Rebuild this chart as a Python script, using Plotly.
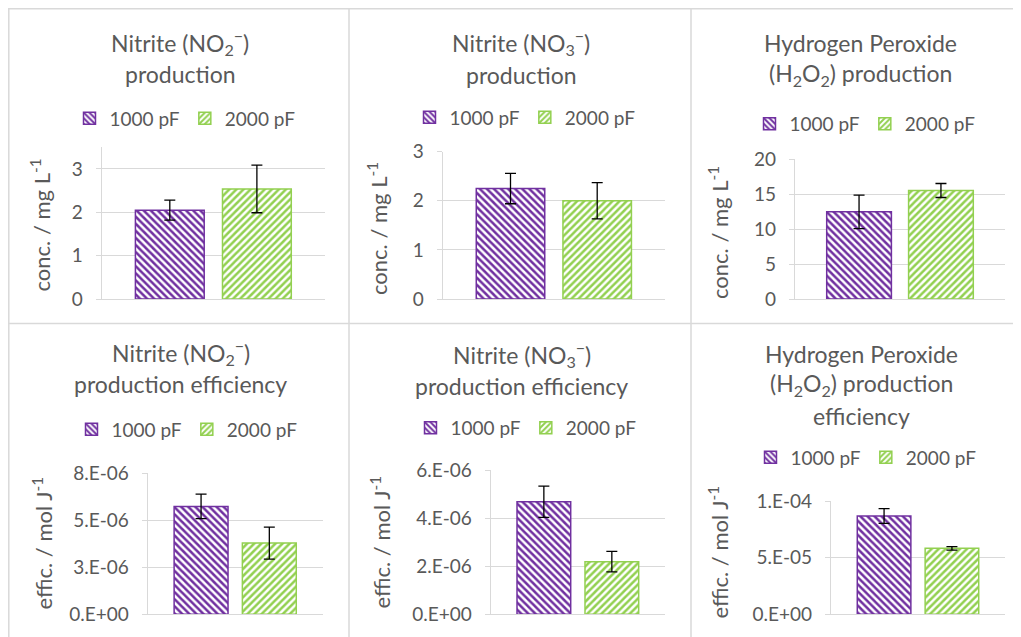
import plotly.graph_objects as go

# ---------------- data ----------------
series_names = ["1000 pF", "2000 pF"]
category = ["sample"]

no2_conc = [2.05, 2.54]
no2_conc_err = [0.23, 0.55]
no3_conc = [2.25, 2.00]
no3_conc_err = [0.31, 0.37]
h2o2_conc = [12.45, 15.5]
h2o2_conc_err = [2.4, 1.0]
no2_eff = [5.74e-6, 3.79e-6]
no2_eff_err = [0.65e-6, 0.85e-6]
no3_eff = [4.68e-6, 2.19e-6]
no3_eff_err = [0.65e-6, 0.43e-6]
h2o2_eff = [8.68e-5, 5.82e-5]
h2o2_eff_err = [0.65e-5, 0.15e-5]

titles = [
    ["Nitrite (NO<sub>2</sub><sup>−</sup>)", "production"],
    ["Nitrite (NO<sub>3</sub><sup>−</sup>)", "production"],
    ["Hydrogen Peroxide", "(H<sub>2</sub>O<sub>2</sub>) production"],
    ["Nitrite (NO<sub>2</sub><sup>−</sup>)", "production efficiency"],
    ["Nitrite (NO<sub>3</sub><sup>−</sup>)", "production efficiency"],
    ["Hydrogen Peroxide", "(H<sub>2</sub>O<sub>2</sub>) production", "efficiency"],
]
conc_title = "conc. / mg L<sup>-1</sup>"
eff_title = "effic. / mol J<sup>-1</sup>"

no2_conc_ticks = [0, 1, 2, 3]
no3_conc_ticks = [0, 1, 2, 3]
h2o2_conc_ticks = [0, 5, 10, 15, 20]
no2_eff_ticks = [0, 2.5e-6, 5e-6, 7.5e-6]
no2_eff_ticktext = ["0.E+00", "3.E-06", "5.E-06", "8.E-06"]
no3_eff_ticks = [0, 2e-6, 4e-6, 6e-6]
no3_eff_ticktext = ["0.E+00", "2.E-06", "4.E-06", "6.E-06"]
h2o2_eff_ticks = [0, 5e-5, 1e-4]
h2o2_eff_ticktext = ["0.E+00", "5.E-05", "1.E-04"]

# ---------------- layout / style ----------------
OFF = 8                      # page body margin of the browser
W, H = 1021 - OFF, 637 - OFF
FONT = "Lato"
TXT = "#595959"
GRID = "#D9D9D9"
colors = ["#7030A0", "#92D050"]
shapes_pat = ["\\", "/"]


def px_x(v):
    return (v - OFF) / W


def px_y(v):
    return 1 - (v - OFF) / H


panels = [
    dict(vals=no2_conc, err=no2_conc_err, ytitle=conc_title, rng=[0, 3.5],
         tv=no2_conc_ticks, tt=[str(t) for t in no2_conc_ticks],
         dom_x=[101.7, 325], dom_y=[147.3, 299], cx=180, base=[50, 81.7],
         leg=(185, 118.5), yt=(40.5, 225)),
    dict(vals=no3_conc, err=no3_conc_err, ytitle=conc_title, rng=[0, 3],
         tv=no3_conc_ticks, tt=[str(t) for t in no3_conc_ticks],
         dom_x=[442.7, 665], dom_y=[151.7, 299], cx=521, base=[50, 82],
         leg=(525, 117.5), yt=(378, 229)),
    dict(vals=h2o2_conc, err=h2o2_conc_err, ytitle=conc_title, rng=[0, 20],
         tv=h2o2_conc_ticks, tt=[str(t) for t in h2o2_conc_ticks],
         dom_x=[795, 1005], dom_y=[159, 299], cx=860, base=[50.5, 81.7],
         leg=(865, 124), yt=(718, 233)),
    dict(vals=no2_eff, err=no2_eff_err, ytitle=eff_title, rng=[0, 7.5e-6],
         tv=no2_eff_ticks, tt=no2_eff_ticktext,
         dom_x=[147.7, 322.7], dom_y=[473.3, 614.3], cx=180.5, base=[360, 391.7],
         leg=(187, 429.5), yt=(42, 543.5)),
    dict(vals=no3_eff, err=no3_eff_err, ytitle=eff_title, rng=[0, 6e-6],
         tv=no3_eff_ticks, tt=no3_eff_ticktext,
         dom_x=[490.7, 665], dom_y=[470, 614.3], cx=521.5, base=[361.7, 393.3],
         leg=(526, 428), yt=(380, 542.5)),
    dict(vals=h2o2_eff, err=h2o2_eff_err, ytitle=eff_title, rng=[0, 1e-4],
         tv=h2o2_eff_ticks, tt=h2o2_eff_ticktext,
         dom_x=[831, 1005], dom_y=[501, 614.3], cx=861, base=[361.7, 392.3, 423.3],
         leg=(866, 457.5), yt=(717.5, 552)),
]

fig = go.Figure()
annotations = []
layout_upd = {}

TITLE_SIZE = 23
for i, p in enumerate(panels):
    n = i + 1
    xa = "x" if n == 1 else f"x{n}"
    ya = "y" if n == 1 else f"y{n}"
    lg = "legend" if n == 1 else f"legend{n}"
    for s in range(2):
        fig.add_trace(go.Bar(
            x=category, y=[p["vals"][s]], name=series_names[s],
            xaxis=xa, yaxis=ya, legend=lg,
            marker=dict(color="white",
                        line=dict(color=colors[s], width=1.5),
                        pattern=dict(shape=shapes_pat[s], fgcolor=colors[s],
                                     bgcolor="white", size=5, solidity=0.5,
                                     fillmode="replace")),
            error_y=dict(type="data", array=[p["err"][s]], visible=True,
                         color="black", thickness=1.3, width=5.5),
        ))
    xkey = "xaxis" if n == 1 else f"xaxis{n}"
    ykey = "yaxis" if n == 1 else f"yaxis{n}"
    layout_upd[xkey] = dict(
        domain=[px_x(p["dom_x"][0]), px_x(p["dom_x"][1])],
        anchor=ya, showticklabels=False, ticks="", showgrid=False,
        showline=True, linecolor=GRID, linewidth=1.3, zeroline=False,
        fixedrange=True,
    )
    layout_upd[ykey] = dict(
        domain=[px_y(p["dom_y"][1]), px_y(p["dom_y"][0])],
        anchor=xa, range=p["rng"], tickvals=p["tv"], ticktext=p["tt"],
        showline=True, linecolor=GRID, linewidth=1.3,
        ticks="outside", ticklen=5, tickcolor=GRID, tickwidth=1.3,
        ticklabelstandoff=9,
        showgrid=True, gridcolor=GRID, gridwidth=1.3, zeroline=False,
        tickfont=dict(family=FONT, size=19, color=TXT),
        automargin=False, fixedrange=True,
    )
    layout_upd[lg] = dict(
        orientation="h", x=px_x(p["leg"][0]), y=px_y(p["leg"][1]),
        xanchor="center", yanchor="middle",
        font=dict(family=FONT, size=19, color=TXT),
        bgcolor="rgba(0,0,0,0)", itemclick=False, itemdoubleclick=False,
        traceorder="normal",
    )
    for line, b in zip(titles[i], p["base"]):
        annotations.append(dict(
            text=line, x=px_x(p["cx"]), y=px_y(b - 7.5), xref="paper", yref="paper",
            xanchor="center", yanchor="middle", showarrow=False,
            font=dict(family=FONT, size=TITLE_SIZE, color=TXT),
        ))
    # y-axis title
    annotations.append(dict(
        text=p["ytitle"], x=px_x(p["yt"][0]), y=px_y(p["yt"][1]),
        xref="paper", yref="paper", xanchor="center", yanchor="middle",
        textangle=-90, showarrow=False,
        font=dict(family=FONT, size=22, color=TXT),
    ))

# panel borders
border_shapes = []


def hline(y, x0, x1):
    border_shapes.append(dict(type="line", xref="paper", yref="paper",
                              x0=px_x(x0), x1=px_x(x1), y0=px_y(y), y1=px_y(y),
                              line=dict(color=GRID, width=1.5)))


def vline(x, y0, y1):
    border_shapes.append(dict(type="line", xref="paper", yref="paper",
                              x0=px_x(x), x1=px_x(x), y0=px_y(y0), y1=px_y(y1),
                              line=dict(color=GRID, width=1.5)))


hline(8.8, 8, 1021)
hline(323.5, 8, 1021)
vline(8.8, 8, 637)
vline(349, 8, 637)
vline(691, 8, 637)

fig.update_layout(
    width=W, height=H,
    margin=dict(l=0, r=0, t=0, b=0),
    paper_bgcolor="white", plot_bgcolor="white",
    barmode="group", bargap=0.22, bargroupgap=0.21,
    annotations=annotations, shapes=border_shapes,
    font=dict(family=FONT, color=TXT),
    **layout_upd,
)

fig.write_html("out.html")
